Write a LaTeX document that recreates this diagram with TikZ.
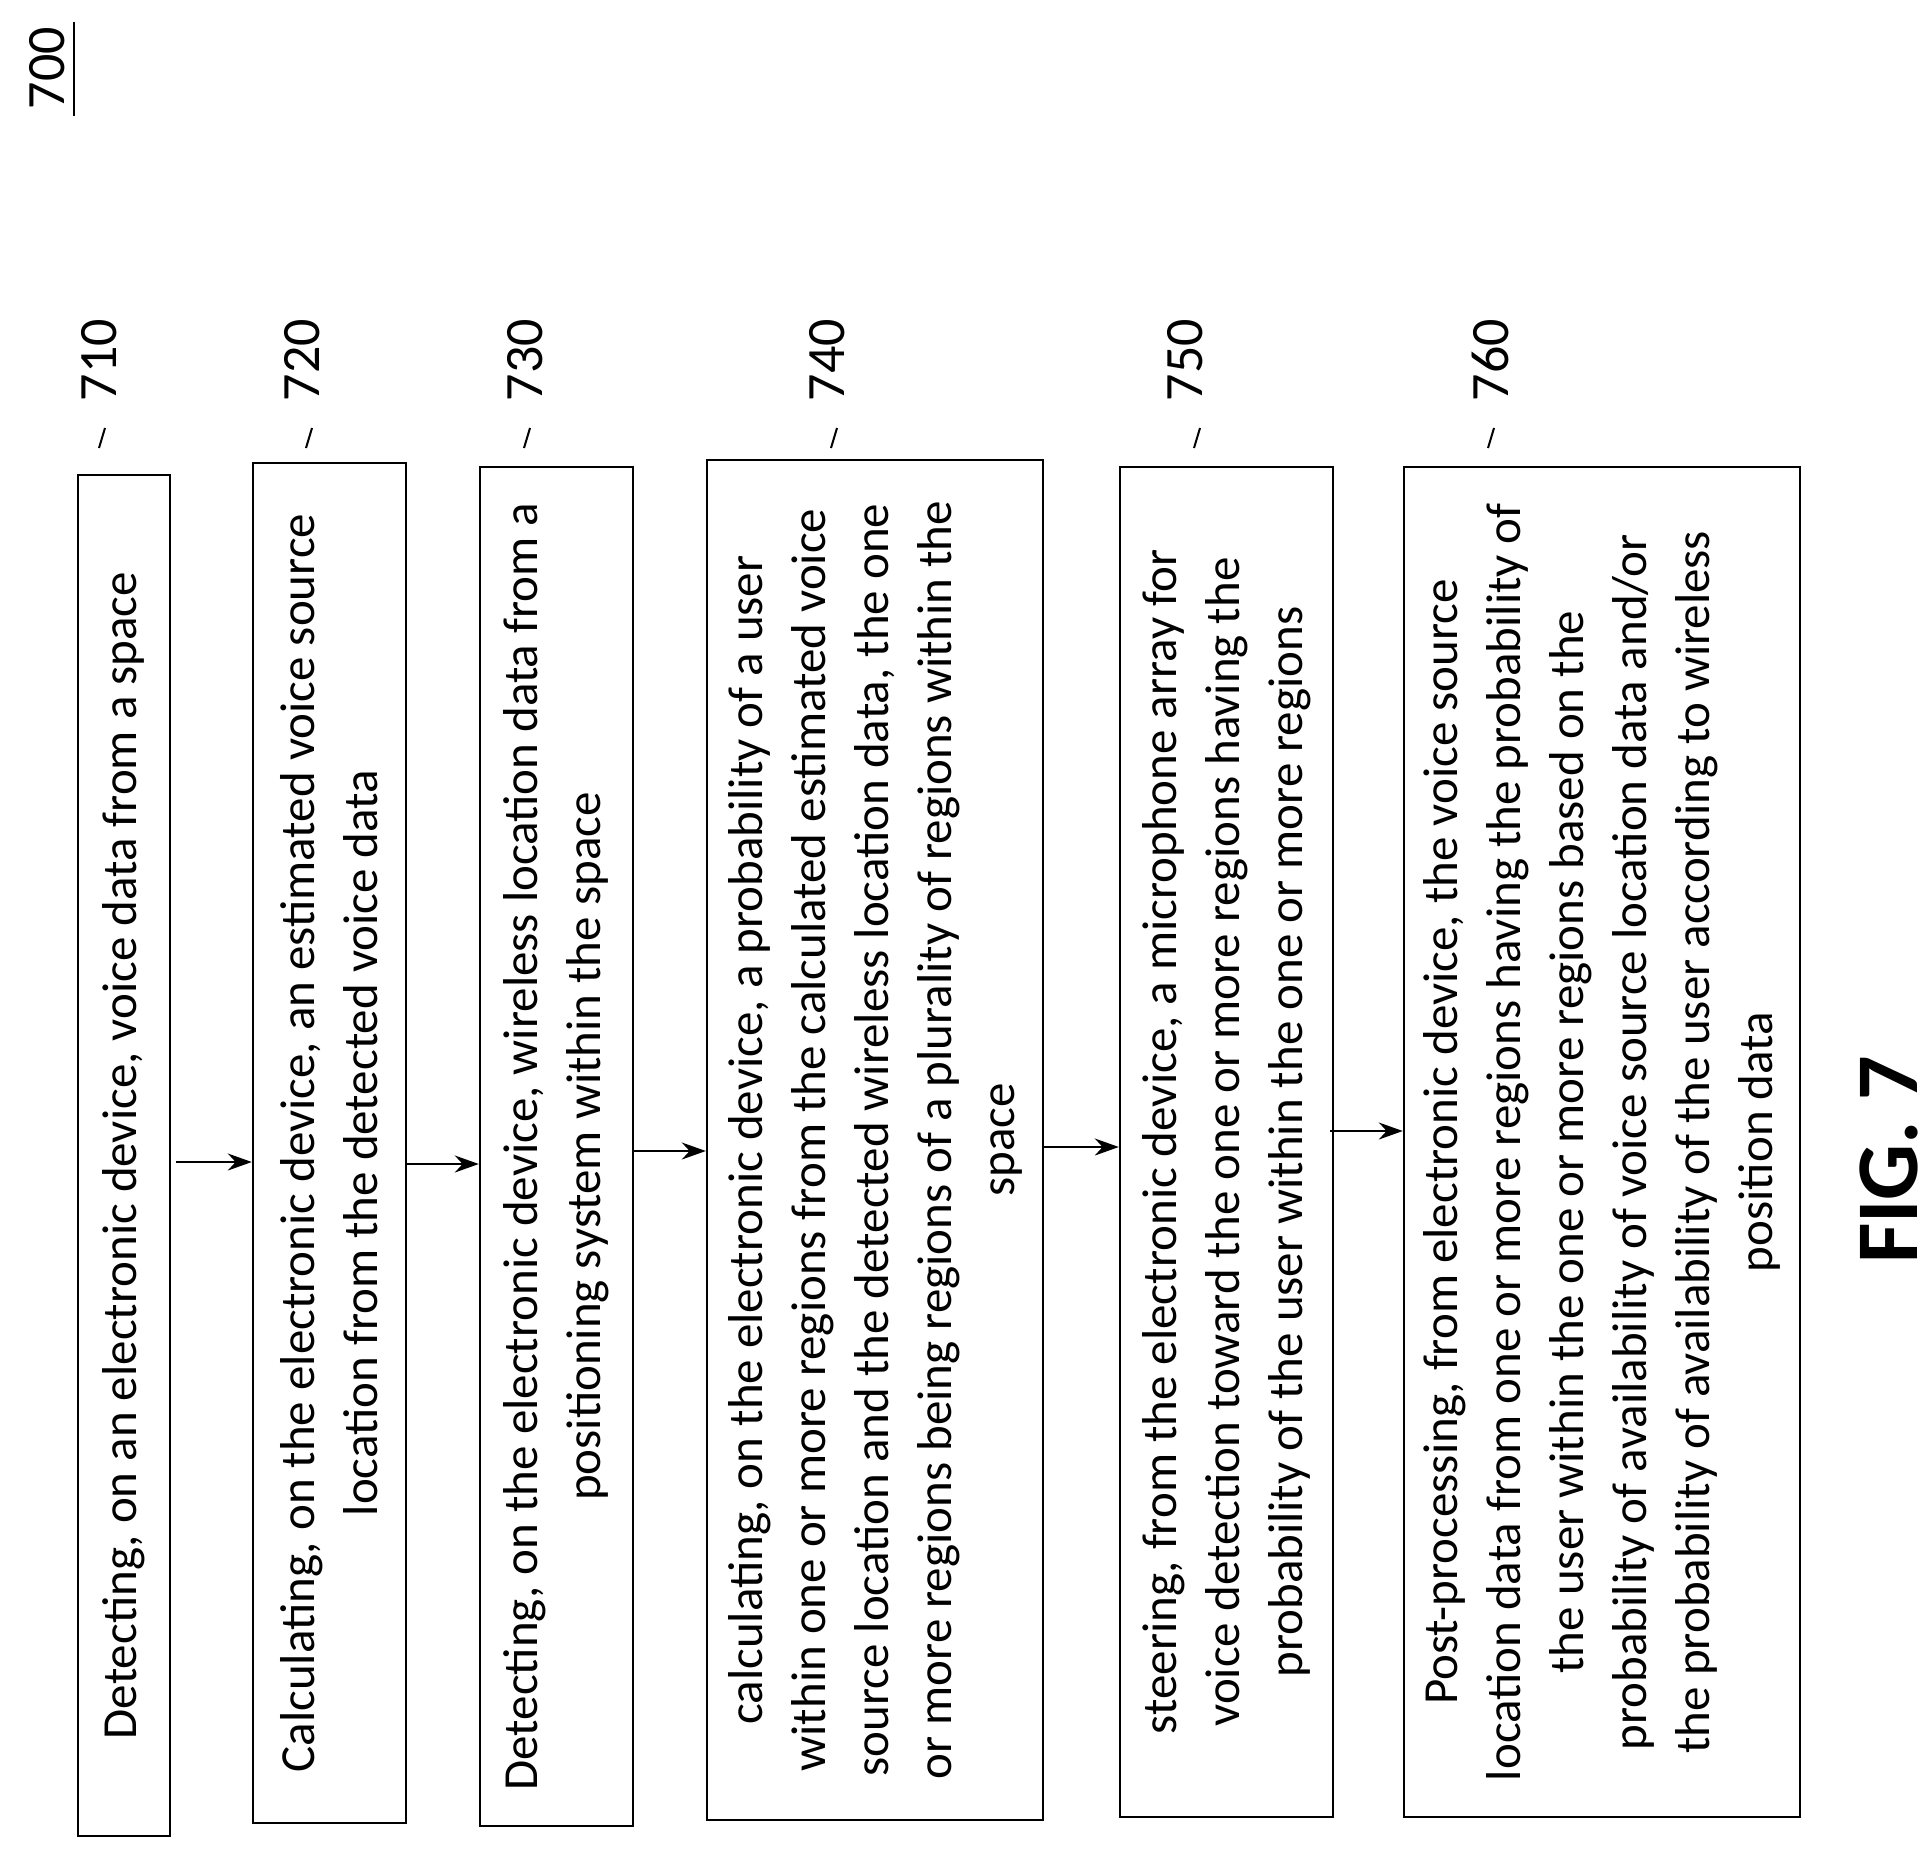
\documentclass[tikz,border=0pt]{standalone}
\usepackage{fontspec}
\setmainfont{Carlito}
\usetikzlibrary{arrows.meta}
\begin{document}
\begin{tikzpicture}[x=1pt,y=-1pt,
  box/.style={draw,line width=2.4pt,rotate=90,align=center,inner sep=0pt,font=\fontsize{49}{63}\selectfont},
  lab/.style={rotate=90,font=\fontsize{54}{60}\selectfont},
  arr/.style={-{Stealth[length=24pt,width=17pt]},line width=2pt},
  tick/.style={line width=2pt}]
\useasboundingbox (0,0) rectangle (1926,1849);
\node[lab] (n700) at (47,68) {700};
\draw[line width=2.4pt] (74,22) -- (74,116);
\node[box,minimum width=1361pt,minimum height=92pt] (b1) at (124,1155.5) {Detecting, on an electronic device, voice data from a space};
\node[box,minimum width=1360pt,minimum height=153pt] (b2) at (329.5,1143) {Calculating, on the electronic device, an estimated voice source\\location from the detected voice data};
\node[box,minimum width=1359pt,minimum height=153pt] (b3) at (556.5,1146.5) {Detecting, on the electronic device, wireless location data from a\\positioning system within the space};
\node[box,minimum width=1360pt,minimum height=336pt] (b4) at (875,1140) {calculating, on the electronic device, a probability of a user\\within one or more regions from the calculated estimated voice\\source location and the detected wireless location data, the one\\or more regions being regions of a plurality of regions within the\\space};
\node[box,minimum width=1350pt,minimum height=213pt] (b5) at (1226.5,1142) {steering, from the electronic device, a microphone array for\\voice detection toward the one or more regions having the\\probability of the user within the one or more regions};
\node[box,minimum width=1350pt,minimum height=396pt] (b6) at (1602,1142) {Post-processing, from electronic device, the voice source\\location data from one or more regions having the probability of\\the user within the one or more regions based on the\\probability of availability of voice source location data and/or\\the probability of availability of the user according to wireless\\position data};
\coordinate (y1) at (0,1162);
\coordinate (y2) at (0,1164);
\coordinate (y3) at (0,1151);
\coordinate (y4) at (0,1147);
\coordinate (y5) at (0,1131);
\draw[arr] (176,1162) -- (b2.north |- y1);
\draw[arr] (b2.south |- y2) -- (b3.north |- y2);
\draw[arr] (b3.south |- y3) -- (b4.north |- y3);
\draw[arr] (b4.south |- y4) -- (b5.north |- y4);
\draw[arr] (1330,1131) -- (b6.north |- y5);
\foreach \n/\x/\t in {710/99/99,720/302/306,730/525/524,740/827/831,750/1185/1194,760/1490/1488}{
  \node[lab] (l\n) at (\x,360) {\n};
  \draw[tick] (\t,448) -- (\t+6,428);
}
\node[rotate=90,font=\bfseries\fontsize{88}{100}\selectfont] (fig) at (1889,1160) {FIG. 7};
\end{tikzpicture}
\end{document}
